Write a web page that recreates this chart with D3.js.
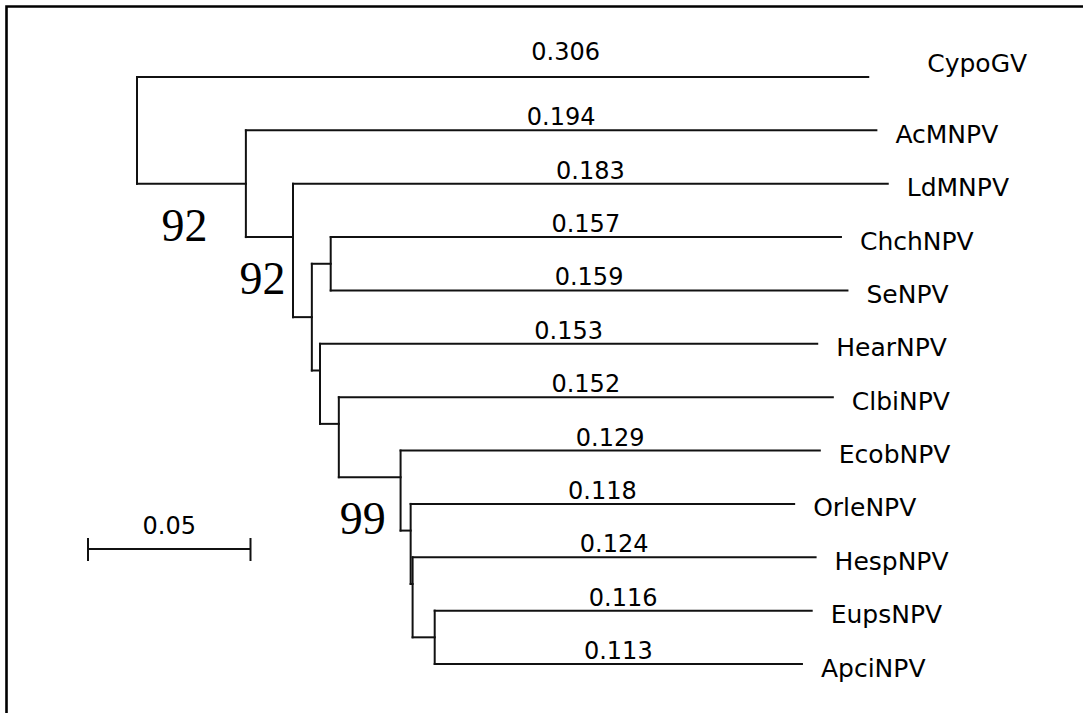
<!DOCTYPE html>
<html><head><meta charset="utf-8">
<script src="https://cdn.jsdelivr.net/npm/d3@7"></script>
<style>html,body{margin:0;padding:0;background:#fff}svg{display:block}</style>
</head><body>
<svg id="chart" width="1083" height="713"></svg>
<script>
// ---- data ----
const taxa        = ["CypoGV","AcMNPV","LdMNPV","ChchNPV","SeNPV","HearNPV","ClbiNPV","EcobNPV","OrleNPV","HespNPV","EupsNPV","ApciNPV"];
const tipParents  = ["root","n1","n2","n4","n4","n5","n6","n7","n8","n9","n10","n10"];
const tipLengths  = [0.225,0.194,0.183,0.157,0.159,0.153,0.152,0.129,0.118,0.124,0.116,0.113];
const tipLabels   = ["0.306","0.194","0.183","0.157","0.159","0.153","0.152","0.129","0.118","0.124","0.116","0.113"];
const nodeIds     = ["root","n1","n2","n3","n4","n5","n6","n7","n8","n9","n10"];
const nodeParents = [null,"root","n1","n2","n3","n3","n5","n6","n7","n8","n9"];
const nodeLengths = [0,0.0335,0.0145,0.0058,0.0058,0.0025,0.0058,0.0190,0.0031,0.0006,0.0068];
const nodeSupport = ["","92","92","","","","","99","","",""];
const scaleBarValue = 0.05;
const scaleBarLabel = "0.05";

// ---- build hierarchy ----
const table = nodeIds.map((id,i)=>({id, parentId:nodeParents[i], length:nodeLengths[i], support:nodeSupport[i], tip:false}))
  .concat(taxa.map((t,i)=>({id:t, parentId:tipParents[i], length:tipLengths[i], label:tipLabels[i], tip:true, order:i})));
const root = d3.stratify().id(d=>d.id).parentId(d=>d.parentId)(table);
root.eachAfter(n=>{ n.minOrder = n.children ? d3.min(n.children,c=>c.minOrder) : n.data.order; });
root.sort((a,b)=>a.minOrder-b.minOrder);
root.eachBefore(n=>{ n.dist = n.parent ? n.parent.dist + n.data.length : 0; });

const svg = d3.select("#chart");
const x = d3.scaleLinear().domain([0, 0.1]).range([137, 137 + 325]);
const y = d3.scaleLinear().domain([0, taxa.length-1]).range([77, 664]);

// layout on a half-row grid with integer midpoints
root.eachAfter(n=>{
  if (!n.children) n.grid = 2*n.data.order;
  else n.grid = Math.floor((n.children[0].grid + n.children[n.children.length-1].grid)/2);
  n.px = x(n.dist);
  n.py = y(n.grid/2);
});

// frame (top and left edges)
svg.append("path").attr("d","M6.5,713V6.5H1083").attr("fill","none").attr("stroke","#000").attr("stroke-width",2.6);

const g = svg.append("g").attr("stroke","#111").attr("stroke-width",2).attr("fill","none").attr("stroke-linecap","square");
root.descendants().forEach(n=>{
  if (n.parent) g.append("line").attr("x1",n.parent.px).attr("x2",n.px).attr("y1",n.py).attr("y2",n.py);
  if (n.children) {
    g.append("line").attr("x1",n.px).attr("x2",n.px)
      .attr("y1",n.children[0].py).attr("y2",n.children[n.children.length-1].py);
  }
});

const numFont = "'DejaVu Sans', sans-serif";
const leaves = root.leaves();
const isOut = n => n.parent === root;
// tip names
svg.append("g").selectAll("text").data(leaves).join("text")
  .attr("x", n => n.px + (isOut(n) ? 59 : 19))
  .attr("y", n => n.py + (isOut(n) ? -5 : 12.5))
  .attr("font-family", numFont).attr("font-size", 25).attr("fill","#000")
  .text(n => n.data.id);
// branch length labels
svg.append("g").selectAll("text").data(leaves).join("text")
  .attr("x", n => (n.parent.px + n.px)/2 + (isOut(n) ? 63 : 0))
  .attr("y", n => n.py - (isOut(n) ? 17 : 5))
  .attr("text-anchor","middle")
  .attr("font-family", numFont).attr("font-size", 24).attr("fill","#000")
  .text(n => n.data.label);
// bootstrap support
svg.append("g").selectAll("text").data(root.descendants().filter(n=>n.data.support)).join("text")
  .attr("x", n => (n.parent.px + n.px)/2 - 7)
  .attr("y", n => n.py + 57)
  .attr("text-anchor","middle")
  .attr("font-family","'Liberation Serif', 'Times New Roman', serif").attr("font-size", 46).attr("fill","#000")
  .text(n => n.data.support);
// scale bar
const sb = svg.append("g").attr("stroke","#111").attr("stroke-width",2);
const sbx0 = 88, sbx1 = sbx0 + (x(scaleBarValue) - x(0)), sby = 549;
sb.append("line").attr("x1",sbx0).attr("x2",sbx1).attr("y1",sby).attr("y2",sby);
sb.append("line").attr("x1",sbx0).attr("x2",sbx0).attr("y1",sby-11).attr("y2",sby+12);
sb.append("line").attr("x1",sbx1).attr("x2",sbx1).attr("y1",sby-11).attr("y2",sby+12);
svg.append("text").attr("x",(sbx0+sbx1)/2).attr("y",534).attr("text-anchor","middle")
  .attr("font-family",numFont).attr("font-size",24).attr("fill","#000").text(scaleBarLabel);
</script>
</body></html>
